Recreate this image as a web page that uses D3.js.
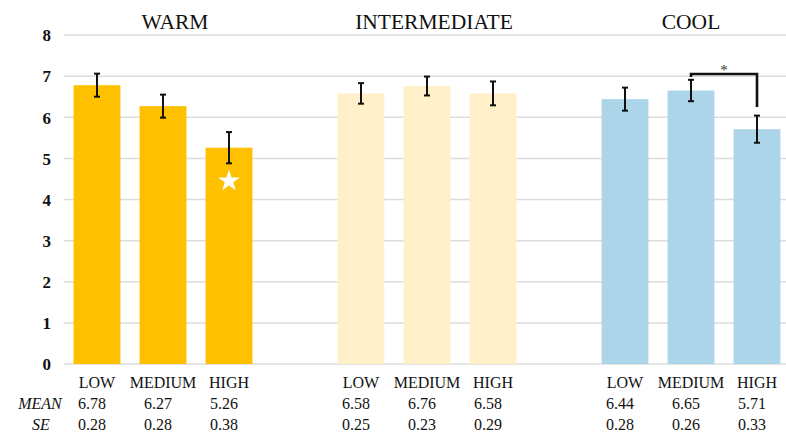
<!DOCTYPE html>
<html>
<head>
<meta charset="utf-8">
<script src="https://cdn.jsdelivr.net/npm/d3@7/dist/d3.min.js"></script>
<style>
  html, body { margin: 0; padding: 0; background: #fff; }
  svg { display: block; }
  svg text { font-family: "Liberation Serif", "Tinos", "Times New Roman", serif !important; }
</style>
</head>
<body>
<svg id="chart" width="786" height="434"></svg>
<script>
// Groups and levels
const groups = ["WARM", "INTERMEDIATE", "COOL"];
const levels = ["LOW", "MEDIUM", "HIGH"];
// Mean ratings per group (LOW, MEDIUM, HIGH)
const warmMean = [6.78, 6.27, 5.26];
const intermediateMean = [6.58, 6.76, 6.58];
const coolMean = [6.44, 6.65, 5.71];
// Standard errors per group
const warmSE = [0.28, 0.28, 0.38];
const intermediateSE = [0.25, 0.23, 0.29];
const coolSE = [0.28, 0.26, 0.33];
const groupColors = ["#FFC000", "#FFF0C9", "#ADD5EA"];
const yTicks = [0, 1, 2, 3, 4, 5, 6, 7, 8];
// Significance bracket between COOL MEDIUM and COOL HIGH
const bracketLevel = 7.05;
const bracketDrop = 6.25;
// Position of the marker star in the WARM HIGH bar
const starLevel = 4.45;

const means = [warmMean, intermediateMean, coolMean];
const ses = [warmSE, intermediateSE, coolSE];

// Flatten into 11 slots: 3 bars per group with an empty slot between groups
const slots = d3.range(11);
const rows = [];
groups.forEach((g, gi) => {
  levels.forEach((l, li) => {
    rows.push({ group: g, gi, level: l, li, slot: gi * 4 + li,
                mean: means[gi][li], se: ses[gi][li] });
  });
});

const svg = d3.select("#chart");
const plotLeft = 64, plotRight = 790, plotTop = 35, plotBottom = 364;

const x = d3.scaleBand().domain(slots).range([plotLeft, plotRight]).paddingInner(0.29).paddingOuter(0.145);
const y = d3.scaleLinear().domain([0, 8]).range([plotBottom, plotTop]);
const cx = d => x(d.slot) + x.bandwidth() / 2;

// Horizontal gridlines
svg.append("g").selectAll("line").data(yTicks).join("line")
  .attr("x1", plotLeft).attr("x2", 786)
  .attr("y1", d => y(d)).attr("y2", d => y(d))
  .attr("stroke", "#dcdcdc").attr("stroke-width", 1.5);

// Y axis labels
const yAxis = d3.axisLeft(y).tickValues(yTicks).tickSize(0).tickPadding(0);
const ga = svg.append("g").attr("transform", `translate(51,0)`).call(yAxis)
  .attr("font-family", null).attr("font-size", null);
ga.select(".domain").remove();
ga.selectAll("text")
  .attr("dy", "0.34em").attr("fill", "#111")
  .style("font-size", "17px").style("font-weight", "bold");

// Bars
svg.append("g").selectAll("rect").data(rows).join("rect")
  .attr("x", d => x(d.slot))
  .attr("width", x.bandwidth())
  .attr("y", d => y(d.mean))
  .attr("height", d => y(0) - y(d.mean))
  .attr("fill", d => groupColors[d.gi]);

// Error bars (mean ± SE)
const eb = svg.append("g").attr("stroke", "#111").attr("stroke-width", 2);
rows.forEach(d => {
  const y1 = y(d.mean + d.se), y2 = y(d.mean - d.se);
  eb.append("line").attr("x1", cx(d)).attr("x2", cx(d)).attr("y1", y1).attr("y2", y2);
  eb.append("line").attr("x1", cx(d) - 3).attr("x2", cx(d) + 3).attr("y1", y1).attr("y2", y1);
  eb.append("line").attr("x1", cx(d) - 3).attr("x2", cx(d) + 3).attr("y1", y2).attr("y2", y2);
});

// Group titles
const titleX = [175, 434, 691];
svg.append("g").selectAll("text").data(groups).join("text")
  .attr("x", (d, i) => titleX[i]).attr("y", 29)
  .attr("text-anchor", "middle").attr("fill", "#111")
  .style("font-size", "21.5px")
  .text(d => d);

// White star inside WARM HIGH bar
const warmHigh = rows.find(d => d.group === "WARM" && d.level === "HIGH");
svg.append("path")
  .attr("d", d3.symbol().type(d3.symbolStar).size(150)())
  .attr("transform", `translate(${cx(warmHigh)},${y(starLevel)})`)
  .attr("fill", "#fff");

// Significance bracket
const cm = rows.find(d => d.group === "COOL" && d.level === "MEDIUM");
const ch = rows.find(d => d.group === "COOL" && d.level === "HIGH");
const bx1 = cx(cm), bx2 = cx(ch);
svg.append("path")
  .attr("d", `M${bx1},${y(bracketLevel) + 3}V${y(bracketLevel)}H${bx2}V${y(bracketDrop)}`)
  .attr("fill", "none").attr("stroke", "#111").attr("stroke-width", 2.6);
svg.append("text").attr("x", (bx1 + bx2) / 2).attr("y", y(bracketLevel) + 1)
  .attr("text-anchor", "middle").attr("fill", "#333")
  .style("font-size", "15px").text("*");

// Table under the chart
const tbl = svg.append("g").attr("fill", "#111");
const cell = sel => sel.style("font-size", "16px");
tbl.selectAll("text.lvl").data(rows).join("text").attr("class", "lvl")
  .attr("x", cx).attr("y", 388)
  .attr("text-anchor", "middle").call(cell).text(d => d.level);
tbl.selectAll("text.mean").data(rows).join("text").attr("class", "mean")
  .attr("x", d => cx(d) - 5).attr("y", 409)
  .attr("text-anchor", "middle").call(cell).text(d => d.mean.toFixed(2));
tbl.selectAll("text.se").data(rows).join("text").attr("class", "se")
  .attr("x", d => cx(d) - 5).attr("y", 430)
  .attr("text-anchor", "middle").call(cell).text(d => d.se.toFixed(2));
tbl.append("text").attr("x", 40).attr("y", 409).attr("text-anchor", "middle")
  .call(cell).style("font-style", "italic").text("MEAN");
tbl.append("text").attr("x", 41).attr("y", 430).attr("text-anchor", "middle")
  .call(cell).style("font-style", "italic").text("SE");
</script>
</body>
</html>
